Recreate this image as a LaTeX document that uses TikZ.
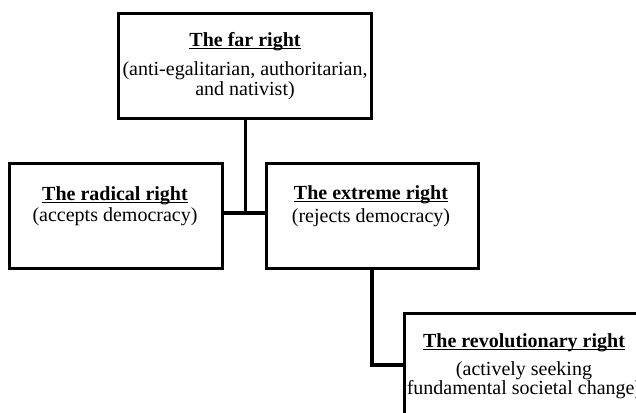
\documentclass[tikz,border=0pt]{standalone}
\usepackage{fontspec}
\setmainfont{Liberation Serif}
\newcommand\hdul[1]{\setbox0\hbox{\textbf{#1}}\rlap{\rule[-3.2bp]{\wd0}{1.3bp}}\box0}
\begin{document}
\begin{tikzpicture}[x=1bp,y=-1bp,
  box/.style={draw,line width=3.2bp,rectangle,inner sep=0pt,anchor=north west},
  conn/.style={line width=3.2bp},
  txt/.style={align=center,anchor=base,inner sep=0pt,font=\fontsize{20bp}{20bp}\selectfont}]
\useasboundingbox (0,0) rectangle (636,412);
\clip (0,0) rectangle (636,412);
\fill[white] (0,0) rectangle (636,412);
\node[box,minimum width=253bp,minimum height=105bp] (far) at (117,12) {};
\node[box,minimum width=213bp,minimum height=105bp] (rad) at (8,162) {};
\node[box,minimum width=212bp,minimum height=105bp] (ext) at (265,162) {};
\node[box,minimum width=242bp,minimum height=113bp] (rev) at (403,312) {};
\node[txt] (fart) at (245,95) {\hdul{The far right}\\[9bp](anti-egalitarian, authoritarian,\\and nativist)};
\node[txt] (radt) at (115,221) {\hdul{The radical right}\\[1bp](accepts democracy)};
\node[txt] (extt) at (371,222) {\hdul{The extreme right}\\[3bp](rejects democracy)};
\node[txt] (revt) at (524,394) {\hdul{The revolutionary right}\\[8bp](actively seeking\\[-1bp]fundamental societal change)};
\coordinate (j) at (243,213);
\coordinate (k) at (372,365);
\draw[conn] (far.south) -- (far.south |- j);
\draw[conn] (rad.east |- j) -- (ext.west |- j);
\draw[conn] (k |- ext.south) -- (k) -- (k -| rev.west);
\end{tikzpicture}
\end{document}
